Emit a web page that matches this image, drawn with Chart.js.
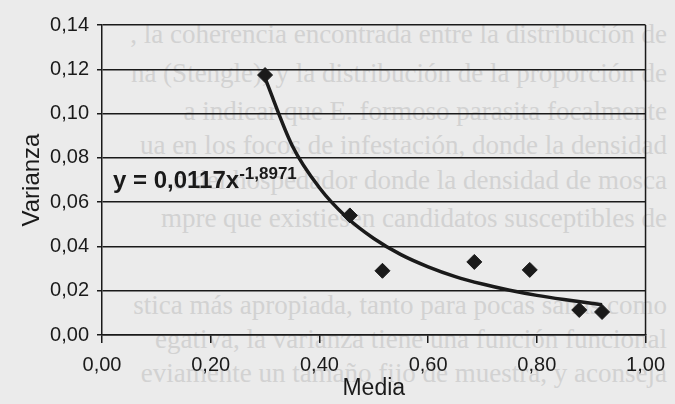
<!DOCTYPE html>
<html>
<head>
<meta charset="utf-8">
<script src="https://cdn.jsdelivr.net/npm/chart.js@4.4.0/dist/chart.umd.min.js"></script>
<style>
  html, body { margin: 0; padding: 0; background: #ebebeb; }
  #wrap { position: relative; width: 675px; height: 404px; overflow: hidden; }
  #paper { position: absolute; left: 100px; top: 0; width: 575px; height: 404px; overflow: hidden; }
  #paper span { position: absolute; right: 8px; white-space: nowrap; font-family: "Liberation Serif", serif; font-size: 27px; color: #d2d2d2; line-height: 30px; }
  canvas { position: absolute; left: 0; top: 0; }
  #eq { position: absolute; left: 113px; top: 168px; font-family: "Liberation Sans", Arial, sans-serif; font-weight: bold; font-size: 24px; line-height: 24px; color: #1a1a1a; white-space: nowrap; }
  #eq sup { font-size: 17px; vertical-align: 9px; line-height: 0; }
</style>
</head>
<body>
<div id="wrap">
  <div id="paper">
    <span style="top:19px">, la coherencia encontrada entre la distribución de</span>
    <span style="top:58px">na (Stengle), y la distribución de la proporción de</span>
    <span style="top:96px">a indicar que E. formoso parasita focalmente</span>
    <span style="top:130px">ua en los focos de infestación, donde la densidad</span>
    <span style="top:165px">o del hospedador donde la densidad de mosca</span>
    <span style="top:203px">mpre que existiesen candidatos susceptibles de</span>
    <span style="top:290px">stica más apropiada, tanto para pocas sanas como</span>
    <span style="top:324px">egativa, la varianza tiene una función funcional</span>
    <span style="top:358px">eviamente un tamaño fijo de muestra, y aconseja</span>
  </div>
  <canvas id="chart" width="675" height="404"></canvas>
  <div id="eq">y = 0,0117x<sup>-1,8971</sup></div>
</div>
<script>
// observed points
const media = [0.300, 0.456, 0.516, 0.685, 0.787, 0.878, 0.920];
const varianza = [0.1174, 0.054, 0.029, 0.033, 0.0294, 0.0113, 0.0104];

// trend line
const curvaMedia = [0.30, 0.35, 0.40, 0.45, 0.50, 0.55, 0.60, 0.65, 0.70, 0.75, 0.80, 0.85, 0.90, 0.92];
const curvaVarianza = [0.1160, 0.0855, 0.0665, 0.0532, 0.0436, 0.0363, 0.0308, 0.0264, 0.0230, 0.0202, 0.0179, 0.0160, 0.0143, 0.0137];

const yTicks = [0, 0.02, 0.04, 0.06, 0.08, 0.10, 0.12, 0.14];
const xTicks = [0, 0.2, 0.4, 0.6, 0.8, 1.0];

const ink = '#1a1a1a';
const fmt = v => v.toFixed(2).replace('.', ',');

const frameRight = {
  id: 'frameRight',
  afterDraw(chart) {
    const { ctx, chartArea: a } = chart;
    ctx.save();
    ctx.strokeStyle = ink;
    ctx.lineWidth = 1.5;
    ctx.beginPath();
    ctx.moveTo(a.right, a.top);
    ctx.lineTo(a.right, a.bottom);
    ctx.stroke();
    ctx.restore();
  }
};

new Chart(document.getElementById('chart'), {
  type: 'scatter',
  data: {
    datasets: [
      {
        label: 'Potencial',
        type: 'line',
        data: curvaMedia.map((x, i) => ({ x, y: curvaVarianza[i] })),
        borderColor: ink,
        borderWidth: 3.5,
        pointRadius: 0,
        fill: false,
        cubicInterpolationMode: 'monotone',
        order: 2,
      },
      {
        label: 'Varianza',
        data: media.map((x, i) => ({ x, y: varianza[i] })),
        pointStyle: 'rectRot',
        pointRadius: 7.5,
        backgroundColor: ink,
        borderColor: ink,
        order: 1,
      },
    ],
  },
  options: {
    responsive: false,
    animation: false,
    events: [],
    layout: { padding: { top: 25, right: 23, left: 0, bottom: 0 } },
    plugins: { legend: { display: false }, tooltip: { enabled: false } },
    scales: {
      x: {
        type: 'linear',
        min: 0, max: 1,
        afterBuildTicks: s => { s.ticks = xTicks.map(v => ({ value: v })); },
        afterFit: s => { s.height = 69; },
        ticks: {
          callback: v => fmt(v),
          color: ink,
          padding: 10,
          maxRotation: 0,
          font: { family: 'Liberation Sans', size: 20 },
        },
        grid: { drawOnChartArea: false, drawTicks: true, tickLength: 8, color: ink, lineWidth: 1.5 },
        border: { color: ink, width: 1.5 },
        title: {
          display: true, text: 'Media', color: ink,
          font: { family: 'Liberation Sans', size: 23 },
          padding: { top: 0, bottom: 2 },
        },
      },
      y: {
        min: 0, max: 0.14,
        afterBuildTicks: s => { s.ticks = yTicks.map(v => ({ value: v })); },
        afterFit: s => { s.width = 102; },
        ticks: {
          callback: v => fmt(v),
          color: ink,
          padding: 8,
          font: { family: 'Liberation Sans', size: 20 },
        },
        grid: { color: ink, lineWidth: 1.5, tickLength: 5 },
        border: { color: ink, width: 1.5 },
        title: {
          display: true, text: 'Varianza', color: ink,
          font: { family: 'Liberation Sans', size: 24 },
          padding: { top: 18, bottom: 0 },
        },
      },
    },
  },
  plugins: [frameRight],
});
</script>
</body>
</html>
